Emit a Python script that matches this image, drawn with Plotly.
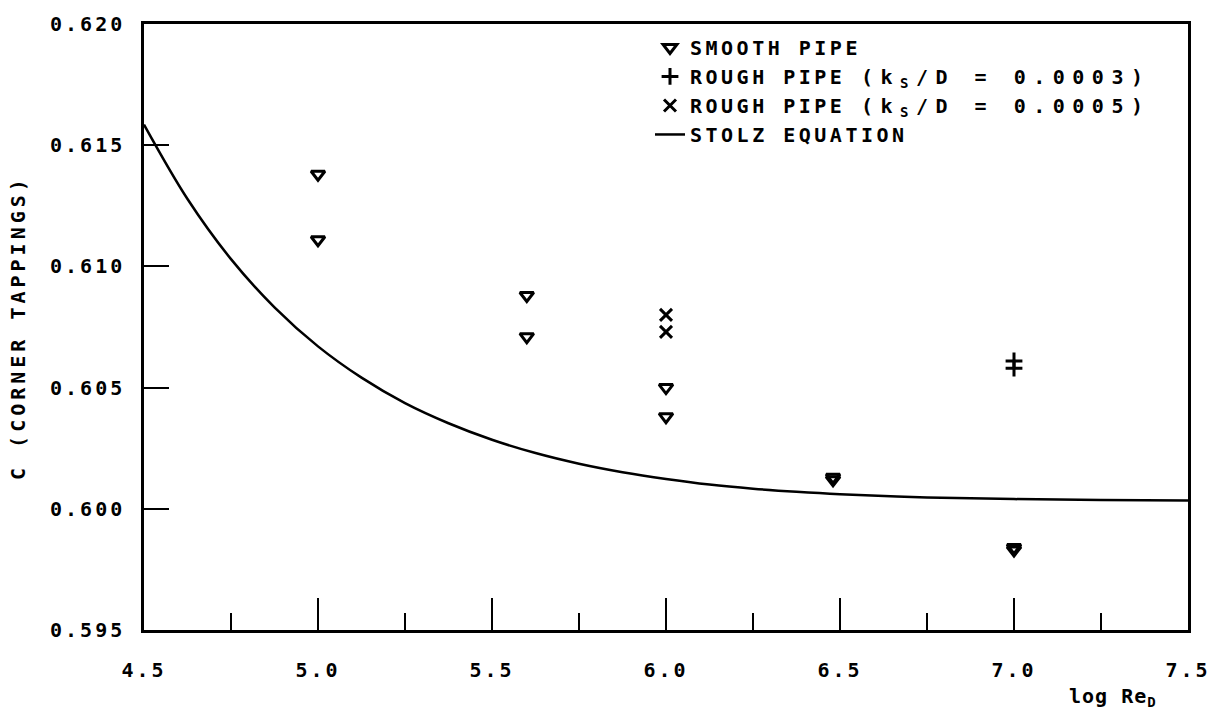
import plotly.graph_objects as go

# ---- data ----
smooth_x = [5.0, 5.0, 5.6, 5.6, 6.0, 6.0, 6.48, 6.48, 7.0, 7.0]
smooth_y = [0.6138, 0.6111, 0.6088, 0.6071, 0.6050, 0.6038, 0.6013, 0.6012, 0.5984, 0.5983]

rough3_x = [7.0, 7.0]
rough3_y = [0.6061, 0.6058]

rough5_x = [6.0, 6.0]
rough5_y = [0.6080, 0.6073]

stolz_x = [4.5, 4.625, 4.75, 4.875, 5.0, 5.125, 5.25, 5.375, 5.5, 5.625, 5.75, 5.875,
           6.0, 6.125, 6.25, 6.375, 6.5, 6.75, 7.0, 7.25, 7.5]
stolz_y = [0.61585, 0.61278, 0.61030, 0.60831, 0.60670, 0.60541, 0.60436, 0.60353,
           0.60285, 0.60230, 0.60186, 0.60151, 0.60123, 0.60100, 0.60083, 0.60070,
           0.60060, 0.60047, 0.60040, 0.60036, 0.60034]

x_ticks = [4.5, 5.0, 5.5, 6.0, 6.5, 7.0, 7.5]
y_ticks = [0.595, 0.600, 0.605, 0.610, 0.615, 0.620]

FONT = "DejaVu Sans Mono"
FS = 20


def sp(t, ls=3):
    return f'<span style="letter-spacing:{ls}px">{t}</span>'


fig = go.Figure()

fig.add_trace(go.Scatter(
    x=smooth_x, y=smooth_y, mode="markers", name=sp("SMOOTH PIPE", 3.5),
    marker=dict(symbol="triangle-down-open", size=12, color="black",
                line=dict(width=3, color="black")),
))
fig.add_trace(go.Scatter(
    x=rough3_x, y=rough3_y, mode="markers",
    name=sp("ROUGH PIPE ", 3.5) + sp("(k<sub>S</sub>/D = 0.0003)", 7.5),
    marker=dict(symbol="cross-thin-open", size=12, color="black",
                line=dict(width=3, color="black")),
))
fig.add_trace(go.Scatter(
    x=rough5_x, y=rough5_y, mode="markers",
    name=sp("ROUGH PIPE ", 3.5) + sp("(k<sub>S</sub>/D = 0.0005)", 7.5),
    marker=dict(symbol="x-thin-open", size=12, color="black",
                line=dict(width=3, color="black")),
))
fig.add_trace(go.Scatter(
    x=stolz_x, y=stolz_y, mode="lines", name=sp("STOLZ EQUATION", 3.5),
    line=dict(color="black", width=2.5, shape="spline"),
))

W, H = 1223, 719
L, R, T, B = 144, 35, 18, 89
pw = W - L - R
ph = H - T - B

fig.update_layout(
    width=W, height=H,
    margin=dict(l=L, r=R, t=T, b=B, pad=0),
    paper_bgcolor="white", plot_bgcolor="white",
    font=dict(family=FONT, size=FS, color="black", weight="bold"),
    showlegend=True,
    legend=dict(
        x=(650 - L) / pw, y=1 - (22 - T) / ph, xanchor="left", yanchor="top",
        bgcolor="rgba(0,0,0,0)", borderwidth=0, itemwidth=30,
        font=dict(family=FONT, size=FS, color="black", weight="bold"),
        tracegroupgap=0,
    ),
    xaxis=dict(
        range=[4.5, 7.5], showgrid=False, zeroline=False,
        showline=True, linecolor="black", linewidth=2.5, mirror=True,
        ticks="inside", ticklen=32, tickwidth=2, tickcolor="black",
        tickvals=x_ticks, ticktext=[sp(f"{v:.1f}") for v in x_ticks],
        ticklabelstandoff=20,
        minor=dict(ticks="inside", ticklen=17, tickwidth=2, tickcolor="black",
                   dtick=0.25, tick0=4.5, showgrid=False),
    ),
    yaxis=dict(
        range=[0.595, 0.620], showgrid=False, zeroline=False,
        showline=True, linecolor="black", linewidth=2.5, mirror=True,
        ticks="inside", ticklen=25, tickwidth=2, tickcolor="black",
        tickvals=y_ticks, ticktext=[sp(f"{v:.3f}") for v in y_ticks],
        ticklabelstandoff=12,
    ),
    annotations=[
        dict(text=sp("C (CORNER TAPPINGS)", 4), xref="paper", yref="paper",
             x=(18 - L) / pw, y=1 - (325 - T) / ph, xanchor="center",
             yanchor="middle", textangle=-90, showarrow=False,
             font=dict(family=FONT, size=FS, color="black", weight="bold")),
        dict(text=sp("log Re<sub>D</sub>", 1), xref="paper", yref="paper",
             x=(1113 - L) / pw, y=1 - (698 - T) / ph, xanchor="center",
             yanchor="middle", showarrow=False,
             font=dict(family=FONT, size=FS, color="black", weight="bold")),
    ],
)

fig.write_html("out.html")
